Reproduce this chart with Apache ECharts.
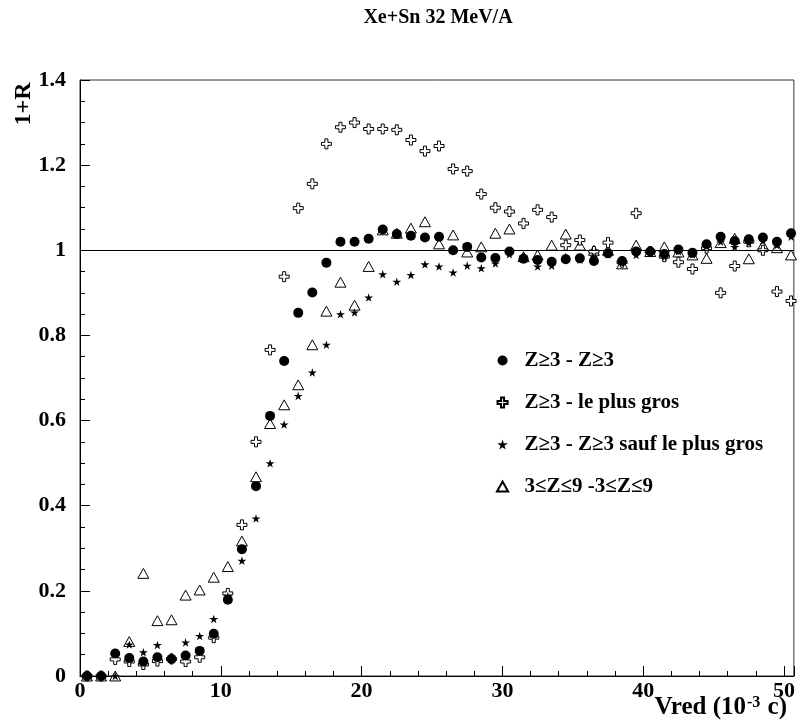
<!DOCTYPE html>
<html>
<head>
<meta charset="utf-8">
<script src="https://cdn.jsdelivr.net/npm/echarts@6/dist/echarts.min.js"></script>
<style>
html, body { margin: 0; background: #fff; }
#chart { width: 798px; height: 724px; }
</style>
</head>
<body>
<div id="chart"></div>
<script>
// bin centres, Vred in 10^-3 c
const vred = [0.5, 1.5, 2.5, 3.5, 4.5, 5.5, 6.5, 7.5, 8.5, 9.5,
    10.5, 11.5, 12.5, 13.5, 14.5, 15.5, 16.5, 17.5, 18.5, 19.5,
    20.5, 21.5, 22.5, 23.5, 24.5, 25.5, 26.5, 27.5, 28.5, 29.5,
    30.5, 31.5, 32.5, 33.5, 34.5, 35.5, 36.5, 37.5, 38.5, 39.5,
    40.5, 41.5, 42.5, 43.5, 44.5, 45.5, 46.5, 47.5, 48.5, 49.5, 50.5];
// Z>=3 - Z>=3
const zAll = [0.0, 0.0, 0.053, 0.042, 0.034, 0.044, 0.040, 0.048, 0.059, 0.099,
    0.179, 0.298, 0.446, 0.611, 0.740, 0.853, 0.901, 0.971, 1.020, 1.020,
    1.027, 1.049, 1.038, 1.034, 1.030, 1.032, 1.000, 1.008, 0.983, 0.982,
    0.997, 0.980, 0.977, 0.973, 0.979, 0.981, 0.975, 0.993, 0.975, 0.997,
    0.997, 0.991, 1.002, 0.994, 1.014, 1.032, 1.022, 1.026, 1.030, 1.020, 1.040];
// Z>=3 - le plus gros
const zBig = [0.0, 0.0, 0.039, 0.034, 0.027, 0.035, 0.040, 0.034, 0.044, 0.090,
    0.194, 0.355, 0.550, 0.766, 0.938, 1.099, 1.156, 1.250, 1.289, 1.300,
    1.285, 1.285, 1.283, 1.259, 1.233, 1.245, 1.191, 1.186, 1.132, 1.100,
    1.091, 1.063, 1.095, 1.078, 1.012, 1.024, 0.997, 1.018, 0.972, 1.087,
    0.997, 0.985, 0.972, 0.956, 1.005, 0.900, 0.963, 1.020, 1.000, 0.903, 0.881];
// Z>=3 - Z>=3 sauf le plus gros
const zNoBig = [0.0, 0.0, 0.0, 0.074, 0.056, 0.073, 0.045, 0.079, 0.094, 0.134,
    0.188, 0.271, 0.370, 0.500, 0.591, 0.658, 0.713, 0.778, 0.850, 0.854,
    0.889, 0.944, 0.926, 0.942, 0.967, 0.962, 0.948, 0.964, 0.958, 0.969,
    0.991, 0.985, 0.962, 0.964, 0.985, 0.978, 0.985, 0.990, 0.973, 0.989,
    0.995, 0.985, 0.998, 0.990, 1.010, 1.020, 1.008, 1.018, 1.022, 1.012, 1.032];
// 3<=Z<=9 - 3<=Z<=9
const zLight = [0.0, 0.0, 0.0, 0.081, 0.241, 0.130, 0.132, 0.190, 0.202, 0.232,
    0.257, 0.317, 0.468, 0.593, 0.637, 0.684, 0.778, 0.857, 0.925, 0.871,
    0.962, 1.048, 1.040, 1.052, 1.067, 1.015, 1.036, 0.996, 1.008, 1.040,
    1.050, 0.985, 0.989, 1.012, 1.038, 1.012, 1.000, 1.000, 0.968, 1.012,
    0.997, 1.008, 0.996, 0.989, 0.981, 1.018, 1.028, 0.980, 1.012, 1.006, 0.989];

const names = ['Z≥3 - Z≥3', 'Z≥3 - le plus gros', 'Z≥3 - Z≥3 sauf le plus gros', '3≤Z≤9 -3≤Z≤9'];

const font = 'Liberation Serif';
const crossPath = 'path://M35,0 H65 V35 H100 V65 H65 V100 H35 V65 H0 V35 H35 Z';
const starPath = 'path://M50,0 L61,35 L98,35 L68,57 L79,91 L50,70 L21,91 L32,57 L2,35 L39,35 Z';
const trianglePath = 'path://M50,0 L100,90 L0,90 Z';

const pairs = (vals) => vred.map((x, i) => [x, vals[i]]);
const openStyle = { color: '#fff', borderColor: '#000', borderWidth: 1, opacity: 1 };
const fullStyle = { color: '#000', opacity: 1 };

let myChart = echarts.init(document.getElementById('chart'));

let option = {
    animation: false,
    backgroundColor: '#fff',
    grid: { left: 80, right: 1, top: 80, bottom: 48, show: true, borderColor: '#333', borderWidth: 1 },
    graphic: [
        {
            type: 'text', x: 438, y: 18,
            style: { text: 'Xe+Sn 32 MeV/A', font: 'bold 20px "Liberation Serif"', fill: '#000',
                textAlign: 'center', textVerticalAlign: 'middle' }
        },
        {
            type: 'text', x: 24, y: 104, rotation: Math.PI / 2,
            style: { text: '1+R', font: 'bold 24px "Liberation Serif"', fill: '#000',
                textAlign: 'center', textVerticalAlign: 'middle' }
        },
        {
            type: 'text', x: 787, y: 708,
            style: {
                text: '{a|Vred (10}{s|-3}{a| c)}',
                textAlign: 'right', textVerticalAlign: 'middle',
                rich: {
                    a: { fontFamily: font, fontWeight: 'bold', fontSize: 25, fill: '#000' },
                    s: { fontFamily: font, fontWeight: 'bold', fontSize: 16, fill: '#000', verticalAlign: 'top', padding: [0, 1, 10, 1] }
                }
            }
        }
    ],
    legend: {
        orient: 'vertical', left: 491, top: 345,
        itemWidth: 34, itemHeight: 10, itemGap: 21,
        symbolKeepAspect: true,
        data: names,
        textStyle: { fontFamily: font, fontWeight: 'bold', fontSize: 21, color: '#000' }
    },
    xAxis: [
        {
            type: 'value', min: 0, max: 50.7, interval: 10, position: 'bottom',
            axisLine: { show: true, lineStyle: { color: '#000', width: 1 } },
            axisTick: { inside: true, length: 10, lineStyle: { color: '#000' } },
            axisLabel: {
                margin: 4, fontFamily: font, fontWeight: 'bold', fontSize: 22, color: '#000',
                formatter: (v) => (v % 10 === 0 ? String(v) : '')
            },
            splitLine: { show: false }
        },
        {
            type: 'value', min: 0, max: 50.7, interval: 2, position: 'bottom',
            axisLine: { show: false },
            axisTick: { inside: true, length: 5, lineStyle: { color: '#000' } },
            axisLabel: { show: false },
            splitLine: { show: false }
        }
    ],
    yAxis: {
        type: 'value', min: 0, max: 1.4, interval: 0.2,
        axisLine: { show: true, lineStyle: { color: '#000', width: 1 } },
        axisTick: { inside: true, length: 10, lineStyle: { color: '#000' } },
        minorTick: { show: true, splitNumber: 4, length: 5, lineStyle: { color: '#000' } },
        axisLabel: {
            margin: 14, fontFamily: font, fontWeight: 'bold', fontSize: 22, color: '#000',
            formatter: (v) => String(Math.round(v * 10) / 10)
        },
        splitLine: { show: false }
    },
    series: [
        {
            name: names[3], type: 'scatter', symbol: trianglePath, symbolSize: 11, symbolKeepAspect: true,
            clip: true, itemStyle: openStyle, data: pairs(zLight),
            markLine: {
                silent: true, symbol: 'none', label: { show: false },
                lineStyle: { color: '#000', width: 1, type: 'solid' },
                data: [{ yAxis: 1 }]
            }
        },
        {
            name: names[1], type: 'scatter', symbol: crossPath, symbolSize: 10, symbolKeepAspect: true,
            clip: true, itemStyle: openStyle, data: pairs(zBig)
        },
        {
            name: names[2], type: 'scatter', symbol: starPath, symbolSize: 9, symbolKeepAspect: true,
            clip: true, itemStyle: fullStyle, data: pairs(zNoBig)
        },
        {
            name: names[0], type: 'scatter', symbol: 'circle', symbolSize: 10, symbolKeepAspect: true,
            clip: true, itemStyle: fullStyle, data: pairs(zAll)
        }
    ]
};

myChart.setOption(option);
window.addEventListener('resize', myChart.resize);
</script>
</body>
</html>
